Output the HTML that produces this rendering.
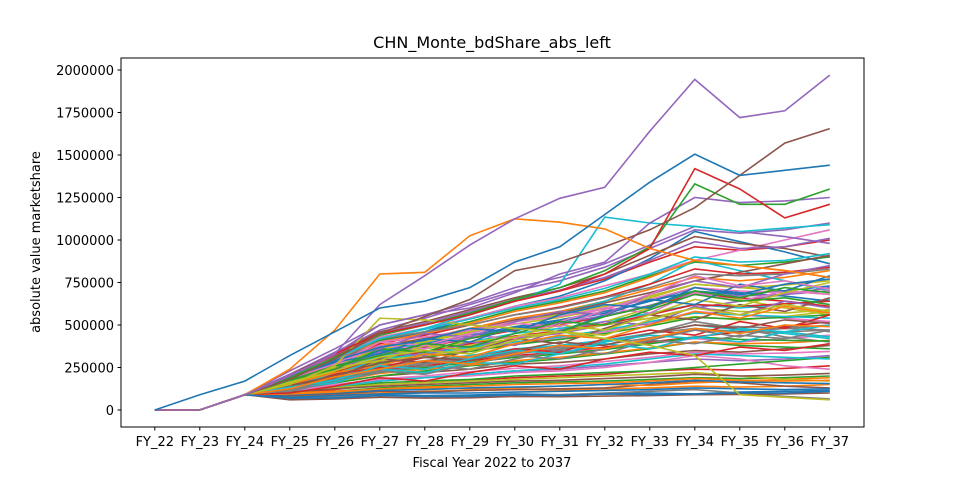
<!DOCTYPE html>
<html><head><meta charset="utf-8">
<style>
html,body{margin:0;padding:0;background:#fff;}
svg text{font-family:"DejaVu Sans","Liberation Sans",sans-serif;fill:#000;}
</style></head>
<body>
<svg id="chart" width="960" height="480" viewBox="0 0 960 480" xmlns="http://www.w3.org/2000/svg">
<rect width="960" height="480" fill="#fff"/>
<text x="492" y="48" font-size="16" text-anchor="middle">CHN_Monte_bdShare_abs_left</text>
<g id="lines"></g>
<rect x="121" y="58" width="743" height="369" fill="none" stroke="#000" stroke-width="1"/>
<g id="xaxis"></g>
<g id="yaxis"></g>
<text x="492" y="467" font-size="13" text-anchor="middle">Fiscal Year 2022 to 2037</text>
<text transform="translate(40,242) rotate(-90)" font-size="13" text-anchor="middle">absolute value marketshare</text>
</svg>
<script>
const categories=["FY_22","FY_23","FY_24","FY_25","FY_26","FY_27","FY_28","FY_29","FY_30","FY_31","FY_32","FY_33","FY_34","FY_35","FY_36","FY_37"];
const yTicks=[0,250000,500000,750000,1000000,1250000,1500000,1750000,2000000];
// series values in thousands
const seriesA=[
[0,0,90,70,75,90,85,88,95,90,95,100,95,105,110,115],
[0,0,90,80,90,100,110,115,120,118,125,130,140,135,140,150],
[0,0,90,95,110,130,140,150,160,165,170,180,190,185,190,200],
[0,0,90,100,120,150,160,175,190,200,210,230,240,235,245,260],
[0,0,90,110,140,170,190,210,230,240,260,280,300,290,300,320],
[0,0,90,120,160,200,220,240,270,280,300,330,350,340,360,380],
[0,0,90,130,180,230,250,280,310,330,360,390,420,400,420,440],
[0,0,90,140,200,260,290,320,350,380,410,450,480,460,480,500],
[0,0,90,150,220,290,320,360,400,430,470,510,550,530,550,580],
[0,0,90,160,240,320,360,400,450,480,520,570,620,600,620,650],
[0,0,90,170,260,350,390,440,490,530,580,640,700,680,700,730],
[0,0,90,180,280,380,420,480,540,580,640,710,780,760,780,820],
[0,0,90,190,300,410,460,520,590,640,700,790,870,850,870,900],
[0,0,90,200,320,440,500,570,640,700,770,870,960,940,960,1000],
[0,0,90,210,340,470,540,620,700,760,840,950,1060,1040,1060,1100],
[0,0,90,85,95,110,105,115,120,125,130,150,170,160,140,130],
[0,0,90,120,150,180,190,200,220,230,250,280,320,300,260,240],
[0,0,90,130,170,230,270,300,330,360,400,450,520,480,430,400],
[0,0,90,150,210,290,330,380,420,460,520,600,700,650,600,560],
[0,0,90,170,250,340,400,460,520,570,640,740,880,820,760,700],
[0,0,90,180,290,400,460,540,610,670,760,890,1050,990,930,860],
[0,0,90,100,110,120,130,125,130,140,150,145,160,170,180,190],
[0,0,90,110,130,160,170,180,200,210,220,230,250,270,290,310],
[0,0,90,140,180,240,260,290,320,340,370,400,430,460,490,520],
[0,0,90,160,230,300,340,370,420,450,500,540,600,640,680,720],
[0,0,90,180,270,370,420,470,530,570,630,690,760,810,860,910],
[0,0,90,200,310,430,480,540,610,660,730,800,880,940,1000,1060],
[0,0,90,70,80,85,80,80,85,90,100,110,120,100,80,65],
[0,0,90,100,130,150,160,170,180,190,200,210,220,200,180,170],
[0,0,90,140,190,250,280,320,360,380,410,450,500,470,450,420],
[0,0,90,170,250,340,380,430,480,520,570,640,720,690,670,640],
[0,0,90,190,300,400,450,510,580,630,690,780,880,850,820,780],
[0,0,90,120,160,200,230,260,280,300,330,360,400,380,370,360],
[0,0,90,160,240,330,370,420,470,500,550,610,680,660,640,610],
[0,0,90,230,360,500,560,630,720,780,860,970,1080,1050,1020,980],
[0,0,90,210,330,460,520,590,660,720,800,910,1020,980,950,900],
[0,0,90,150,200,270,310,350,390,420,460,510,580,560,540,520],
[0,0,90,130,180,250,280,310,340,370,400,450,500,490,480,470],
[0,0,90,180,260,360,410,460,520,560,610,670,740,720,700,680],
[0,0,90,110,140,170,190,210,230,250,270,300,330,320,310,300],
[0,0,90,90,100,115,120,130,135,140,150,160,175,165,160,155],
[0,0,90,125,165,215,240,265,290,310,335,365,400,390,395,410],
[0,0,90,145,205,275,310,345,385,415,450,495,545,535,545,560],
[0,0,90,155,225,305,345,390,435,465,505,560,620,610,625,640],
[0,0,90,165,245,330,375,425,475,510,555,615,690,670,680,700],
[0,0,90,105,125,140,150,160,170,175,185,195,210,200,205,215],
[0,0,90,115,145,185,200,225,245,260,285,310,340,330,335,345],
[0,0,90,135,185,240,270,300,335,355,385,425,470,455,460,470],
[0,0,90,175,265,360,400,455,505,545,595,660,740,720,735,760],
[0,0,90,195,305,420,475,535,600,650,715,800,900,870,880,920],
[0,0,90,75,85,95,100,100,105,110,115,120,130,125,120,125],
[0,0,90,95,105,125,135,140,150,155,160,170,185,175,170,175],
[0,0,90,125,170,225,250,280,310,330,355,390,430,415,410,405],
[0,0,90,185,285,390,440,500,560,605,665,740,830,800,810,840],
[0,0,90,205,325,450,510,580,650,705,780,880,990,950,960,1010],
[0,0,90,60,65,75,70,72,80,78,82,85,90,92,95,100],
[0,0,90,160,260,400,430,470,520,550,600,650,720,700,690,700],
[0,0,90,175,280,420,460,500,560,600,660,720,800,790,800,830],
[0,0,90,150,230,330,360,400,430,460,500,540,600,580,570,590],
[0,0,90,140,210,300,330,370,400,430,470,520,570,560,550,540]
];
const seriesB=[
[0,0,90,120,210,250,310,290,360,340,420,470,440,520,480,560],
[0,0,90,180,230,340,320,400,380,470,520,500,610,560,640,600],
[0,0,90,140,190,300,280,350,420,390,480,560,530,620,580,660],
[0,0,90,200,260,380,360,440,420,520,600,570,690,640,700,680],
[0,0,90,110,170,220,260,240,300,350,330,410,470,430,500,460],
[0,0,90,160,250,290,380,350,430,500,470,560,650,610,690,750],
[0,0,90,130,160,240,220,280,270,330,390,360,430,400,460,430],
[0,0,90,190,280,330,420,400,490,460,560,650,620,740,700,790],
[0,0,90,150,220,260,330,310,390,440,420,500,580,540,610,570],
[0,0,90,170,240,360,340,420,480,460,550,610,700,660,720,690],
[0,0,90,100,140,190,170,220,260,240,300,340,320,370,350,390],
[0,0,90,210,300,360,450,430,520,580,560,680,760,720,800,850],
[0,0,90,145,200,280,310,290,350,400,380,450,500,480,530,510],
[0,0,90,185,270,400,380,450,510,490,590,680,790,730,760,710],
[0,0,90,115,180,230,210,270,320,300,360,410,390,440,420,470],
[0,0,90,165,230,310,350,330,410,460,440,530,600,560,620,580],
[0,0,90,135,175,260,240,300,350,330,400,440,420,480,460,500],
[0,0,90,195,290,370,410,480,460,560,620,600,720,680,740,770],
[0,0,90,125,195,240,290,270,330,380,360,420,480,450,500,490],
[0,0,90,175,260,320,390,370,450,520,500,590,680,640,660,620]
];
const seriesHighlights=[
[0,0,90,70,70,85,80,80,90,85,95,90,95,100,100,110],
[0,0,90,150,260,540,530,500,480,460,420,380,320,90,75,60],
[0,0,90,180,300,420,480,560,640,740,1135,1100,1080,1050,1070,1090],
[0,0,90,200,330,500,560,600,690,800,870,1100,1250,1220,1230,1250],
[0,0,90,190,310,440,500,570,650,720,820,960,1330,1210,1210,1300],
[0,0,90,200,330,450,500,560,640,700,800,950,1420,1300,1130,1210],
[0,0,90,180,300,450,550,650,820,870,960,1060,1190,1380,1570,1655],
[0,0,90,240,470,800,810,1025,1125,1105,1065,950,880,850,820,780],
[0,0,90,200,330,620,790,970,1125,1245,1310,1640,1945,1720,1760,1970],
[0,90,170,320,460,600,640,720,870,960,1150,1340,1505,1380,1410,1440]
];
const colors=["#1f77b4","#ff7f0e","#2ca02c","#d62728","#9467bd","#8c564b","#e377c2","#7f7f7f","#bcbd22","#17becf"];
const hlColors=["#1f77b4","#bcbd22","#17becf","#9467bd","#2ca02c","#d62728","#8c564b","#ff7f0e","#9467bd","#1f77b4"];
const NS="http://www.w3.org/2000/svg";
function xScale(i){return 154.8+i*45;}
function yScale(v){return 410-v*340/2000000;}
const lines=document.getElementById('lines');
function draw(arr,col){
  const p=document.createElementNS(NS,'polyline');
  p.setAttribute('points',arr.map((v,i)=>xScale(i).toFixed(1)+','+yScale(v*1000).toFixed(1)).join(' '));
  p.setAttribute('fill','none');
  p.setAttribute('stroke',col);
  p.setAttribute('stroke-width','1.6');
  
  
  lines.appendChild(p);
}
seriesA.forEach((s,i)=>draw(s,colors[i%10]));
seriesB.forEach((s,i)=>draw(s,colors[(i+3)%10]));
seriesHighlights.forEach((s,i)=>draw(s,hlColors[i]));
const xa=document.getElementById('xaxis');
categories.forEach((c,i)=>{
  const x=xScale(i);
  const l=document.createElementNS(NS,'line');
  l.setAttribute('x1',x);l.setAttribute('x2',x);l.setAttribute('y1',427);l.setAttribute('y2',430.5);l.setAttribute('stroke','#000');
  
  
  xa.appendChild(l);
  const t=document.createElementNS(NS,'text');
  t.setAttribute('x',x);t.setAttribute('y',446);t.setAttribute('font-size','13');t.setAttribute('text-anchor','middle');
  t.textContent=c;
  
  
  xa.appendChild(t);
});
const ya=document.getElementById('yaxis');
yTicks.forEach(v=>{
  const y=yScale(v);
  const l=document.createElementNS(NS,'line');
  l.setAttribute('x1',117.5);l.setAttribute('x2',121);l.setAttribute('y1',y);l.setAttribute('y2',y);l.setAttribute('stroke','#000');
  
  
  ya.appendChild(l);
  const t=document.createElementNS(NS,'text');
  t.setAttribute('x',114);t.setAttribute('y',y+5);t.setAttribute('font-size','13');t.setAttribute('text-anchor','end');
  t.textContent=String(v);
  
  
  ya.appendChild(t);
});
</script>
</body></html>
